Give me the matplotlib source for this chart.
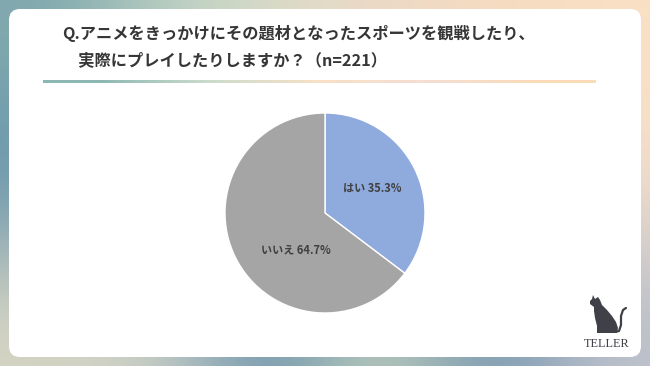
import matplotlib.pyplot as plt
import numpy as np
from matplotlib.patches import FancyBboxPatch, Polygon

plt.rcParams["font.family"] = ["Noto Sans CJK JP", "DejaVu Sans"]

# data
categories = ["はい", "いいえ"]
shares = [35.3, 64.7]
title_lines = ["Q.アニメをきっかけにその題材となったスポーツを観戦したり、",
               "　実際にプレイしたりしますか？（n=221）"]
slice_colors = ["#8faadc", "#a5a5a5"]
text_color = "#404040"

W, H = 650, 366
fig = plt.figure(figsize=(W / 100, H / 100), dpi=100)

# full-figure overlay in pixel units for the decoration
bg = fig.add_axes([0, 0, 1, 1])
bg.set_xlim(0, W)
bg.set_ylim(H, 0)
bg.axis("off")

# blurred background gradient
grid = np.array([
    [[0.50, 0.66, 0.68], [0.72, 0.81, 0.76], [0.85, 0.86, 0.78], [0.93, 0.85, 0.78], [0.96, 0.86, 0.75], [0.98, 0.88, 0.77]],
    [[0.36, 0.55, 0.66], [0.80, 0.85, 0.82], [0.92, 0.90, 0.85], [0.95, 0.87, 0.80], [0.96, 0.86, 0.78], [0.96, 0.87, 0.80]],
    [[0.85, 0.84, 0.77], [0.80, 0.82, 0.78], [0.36, 0.53, 0.66], [0.80, 0.85, 0.75], [0.40, 0.55, 0.67], [0.74, 0.76, 0.80]],
])
bg.imshow(grid, extent=(0, W, H, 0), interpolation="bicubic", aspect="auto", zorder=0)

card = FancyBboxPatch((9, 9), 632, 348, boxstyle="round,pad=0,rounding_size=11",
                      facecolor="white", edgecolor="none", zorder=1)
bg.add_patch(card)

# title
bg.text(62, 33, title_lines[0], fontsize=11.7, fontweight="bold", color="#363636",
        va="center", ha="left", zorder=2)
bg.text(62, 60, title_lines[1], fontsize=11.7, fontweight="bold", color="#363636",
        va="center", ha="left", zorder=2)

# gradient rule under the title
rule = np.array([[[0.55, 0.72, 0.70], [0.80, 0.86, 0.80], [0.97, 0.88, 0.78], [0.96, 0.87, 0.83], [0.98, 0.86, 0.72]]])
bg.imshow(rule, extent=(43, 596, 83.5, 80.5), interpolation="bilinear", aspect="auto", zorder=2)

# cat logo
cat = [(593, 295), (595, 299), (598, 297), (600, 300), (602, 305), (607, 310), (612, 316),
       (616, 322), (618, 328), (617, 333), (597, 333), (597, 326), (595, 318), (594, 311),
       (594, 307), (590, 304), (590, 301), (592, 299)]
bg.add_patch(Polygon(cat, closed=True, facecolor="#404048", edgecolor="none", zorder=2))
tail = np.array([(614, 332), (619, 331), (621, 325), (621, 316), (623, 310), (626, 308)])
bg.plot(tail[:, 0], tail[:, 1], color="#404048", lw=1.6, solid_capstyle="round", zorder=2)
bg.text(607, 344, "TELLER", fontsize=8.8, family="Liberation Serif", color="#404048",
        ha="center", va="center", zorder=2)

# pie
ax = fig.add_axes([(325 - 101) / W, (H - 213 - 101) / H, 202 / W, 202 / H])
wedges, _ = ax.pie(shares, colors=slice_colors, startangle=90, counterclock=False,
                   wedgeprops=dict(edgecolor="white", linewidth=1))
ax.set_xlim(-1.01, 1.01)
ax.set_ylim(-1.01, 1.01)
ax.set_aspect("equal")
ax.axis("off")

label_xy = [(0.47, 0.25), (-0.29, -0.37)]
for name, val, (lx, ly) in zip(categories, shares, label_xy):
    ax.text(lx, ly, f"{name} {val:.1f}%", fontsize=8, fontweight="bold", color=text_color,
            ha="center", va="center")

fig.savefig("out.png", dpi=100)
